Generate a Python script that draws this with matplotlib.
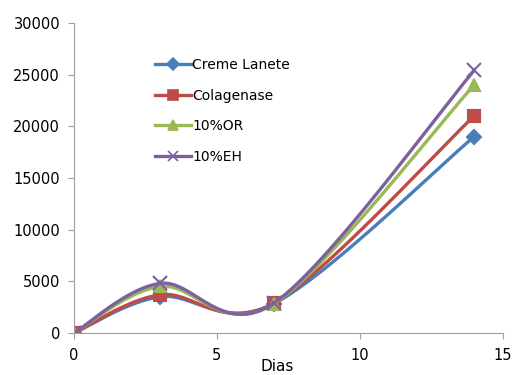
import numpy as np
import matplotlib
matplotlib.use("Agg")
import matplotlib.pyplot as plt

# data
dias = [0, 3, 7, 14]
creme_lanete = [0, 3500, 2850, 19000]
colagenase = [0, 3700, 2900, 21000]
or_10 = [0, 4500, 2850, 24000]
eh_10 = [0, 4800, 2900, 25400]

series = [
    ("Creme Lanete", creme_lanete, "#4A7EBB", "D", 7.5),
    ("Colagenase", colagenase, "#BE4B48", "s", 8.5),
    ("10%OR", or_10, "#98B954", "^", 9),
    ("10%EH", eh_10, "#7D60A0", "x", 9.5),
]


def smooth(xs, ys, n=60):
    # catmull-rom style bezier, close to excel "smoothed line"
    pts = np.column_stack([xs, ys]).astype(float)
    out = []
    for i in range(len(pts) - 1):
        p0 = pts[i - 1] if i > 0 else pts[i]
        p1, p2 = pts[i], pts[i + 1]
        p3 = pts[i + 2] if i + 2 < len(pts) else pts[i + 1]
        c1 = p1 + (p2 - p0) / 6
        c2 = p2 - (p3 - p1) / 6
        t = np.linspace(0, 1, n)[:, None]
        seg = ((1 - t) ** 3) * p1 + 3 * ((1 - t) ** 2) * t * c1 + 3 * (1 - t) * t ** 2 * c2 + t ** 3 * p2
        out.append(seg)
    out = np.vstack(out)
    return out[:, 0], out[:, 1]


fig = plt.figure(figsize=(5.12, 3.75), dpi=100)
ax = fig.add_axes([0.1445, 0.112, 0.8375, 0.827])

for name, vals, col, mk, ms in series:
    sx, sy = smooth(dias, vals)
    ax.plot(sx, sy, color=col, lw=2.4, solid_capstyle="round")
    ax.plot(dias, vals, ls="none", marker=mk, color=col, ms=ms, mew=1.5)
    ax.plot([], [], color=col, lw=2.4, marker=mk, ms=ms * 0.8, mew=1.2, label=name)

ax.set_xlim(0, 15)
ax.set_ylim(0, 30000)
ax.set_xticks([0, 5, 10, 15])
ax.set_yticks(range(0, 30001, 5000))
for s in ["top", "right"]:
    ax.spines[s].set_visible(False)
for s in ["left", "bottom"]:
    ax.spines[s].set_color("#A0A0A0")
ax.tick_params(colors="#A0A0A0", labelcolor="black", labelsize=10.5, length=4, width=0.8)
ax.tick_params(axis="y", pad=6)
ax.tick_params(axis="x", pad=7)
ax.set_xlabel("Dias", fontsize=11)
ax.xaxis.set_label_coords(0.475, -0.085)

ax.legend(loc="upper left", bbox_to_anchor=(0.175, 0.905), frameon=False, fontsize=10,
          handlelength=2.6, handletextpad=0.1, labelspacing=1.2, borderaxespad=0)

fig.savefig("out.png", dpi=100)
